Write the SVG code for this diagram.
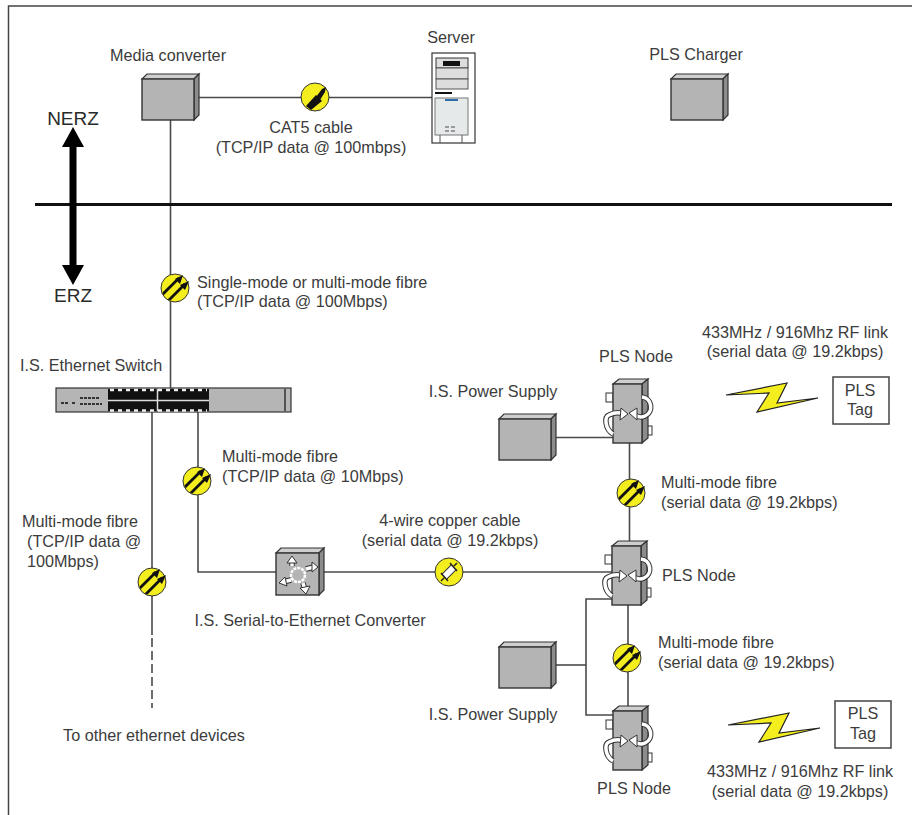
<svg xmlns="http://www.w3.org/2000/svg" xmlns:xlink="http://www.w3.org/1999/xlink" width="912" height="815" viewBox="0 0 912 815">
<style>
text{font-family:"Liberation Sans",Arial,sans-serif;font-size:16.2px;fill:#3c3c3c}
.m{text-anchor:middle}
.big{font-size:19px;fill:#2a2a2a}
.c{fill:none;stroke:#4a4a4a;stroke-width:1.6}
.f{fill:#b4b4b4;stroke:#333;stroke-width:1.4}
.t{fill:#cfcfcf;stroke:#333;stroke-width:1.2}
.s{fill:#8c8c8c;stroke:#333;stroke-width:1.2}
.y{fill:#f5ee1e;stroke:#333;stroke-width:1}
.w{fill:#fff;stroke:#333;stroke-width:1}
.ao{fill:none;stroke:#333;stroke-width:5.5}
.ai{fill:none;stroke:#fff;stroke-width:3.5}
</style>
<defs>
<g id="box">
<path class="t" d="M0 5L5 0H57L52 5Z"/><path class="s" d="M52 5L57 0V41L52 46Z"/><rect class="f" y="5" width="52" height="41"/>
</g>
<clipPath id="disc"><circle r="13.500"/></clipPath>
<g id="fibre">
<circle class="y" r="14"/>
<g clip-path="url(#disc)">
<path d="M-14 8L4 -10M-7 13L10 -4" stroke="#111" stroke-width="2.800" fill="none"/>
</g>
<path d="M8 -13L5 -4L0 -9ZM14 -7L10 2L5 -3Z" fill="#111"/>
</g>
<g id="node">
<rect class="w" x="-7" y="14" width="7" height="9"/>
<rect class="w" x="33" y="47" width="6" height="9"/>
<path class="t" d="M0 5L6 0H35L29 5Z"/><path class="s" d="M29 5L35 0V59L29 64Z"/><rect class="f" y="5" width="29" height="59"/>
<path class="ao" d="M0 55C-8 50 -9 38 -4 36C2 33 6 33 10 35"/>
<path class="ai" d="M0 55C-8 50 -9 38 -4 36C2 33 6 33 10 35"/>
<path class="w" d="M15 35L8 29L7 41Z"/>
<path class="ao" d="M29 18C39 19 41 33 32 37C28 39 25 38 22 36"/>
<path class="ai" d="M29 18C39 19 41 33 32 37C28 39 25 38 22 36"/>
<path class="w" d="M16 34L24 29L24 41Z"/>
</g>
<g id="bolt">
<path d="M0 12L61 0L51 20L92 15L31 29L43 10Z" fill="#f5ee1e" stroke="#222" stroke-width="1.200"/>
</g>
</defs>
<path d="M8.500 815V6H912" fill="none" stroke="#444" stroke-width="1.500"/>

<g id="connectors">
<path class="c" d="M199 97.500H432"/>
<path class="c" d="M170.500 120V388"/>
<path class="c" d="M152 412V635"/>
<path class="c" d="M152 638V708" stroke-dasharray="9 4"/>
<path class="c" d="M198 412V572H276"/>
<path class="c" d="M324 572H612"/>
<path class="c" d="M629.500 443V547"/>
<path class="c" d="M628 605V711"/>
<path class="c" d="M556 437.500H613"/>
<path class="c" d="M556 665H586"/>
<path class="c" d="M613 599H586V715H613"/>
</g>

<g id="zone-boundary">
<path d="M35 204.500H892" stroke="#111" stroke-width="3"/>
<path d="M73 127L84 147H76.500V265H84L73 285L62 265H69.500V147H62Z" fill="#000"/>
<text class="m big" x="73" y="125">NERZ</text>
<text class="m big" x="73" y="302">ERZ</text>
</g>

<g id="media-converter"><use xlink:href="#box" x="142" y="74"/><text class="m" x="168" y="61">Media converter</text></g>
<g id="pls-charger"><use xlink:href="#box" x="671" y="74"/><text class="m" x="696" y="60">PLS Charger</text></g>
<g id="server">
<text class="m" x="451" y="43">Server</text>
<rect x="432" y="53" width="43" height="90" fill="#fff" stroke="#333" stroke-width="1.200"/>
<rect x="436" y="58" width="32" height="10" fill="#ddd" stroke="#333"/>
<rect x="443" y="61" width="17" height="5" fill="#111"/>
<rect x="436" y="68" width="32" height="11" fill="#ddd" stroke="#555"/>
<rect x="436" y="79" width="32" height="10" fill="#ddd" stroke="#555"/>
<path d="M435 93H452" stroke="#111" stroke-width="2"/>
<rect x="435" y="98" width="33" height="37" fill="#e6e9e9" stroke="#777"/>
<path d="M445 100H458" stroke="#2d6ca8" stroke-width="2"/>
<path d="M445 127h4M451 127h4M445 131h4M451 131h4" stroke="#999" stroke-width="2"/>
<path d="M440 135V143M462 135V143" stroke="#555"/>
</g>
<g id="cat5-symbol">
<circle class="y" cx="315" cy="97" r="14"/>
<path d="M306 106L316 95L322 101L311 110Z" fill="#111"/>
<path d="M316 97L322 89L326 87L325 92L320 100Z" fill="#111"/>
</g>
<text class="m" x="311" y="133">CAT5 cable</text>
<text class="m" x="311" y="153">(TCP/IP data @ 100mbps)</text>

<use id="fibre-1" xlink:href="#fibre" x="175" y="288"/>
<text x="197" y="288">Single-mode or multi-mode fibre</text>
<text x="197" y="307">(TCP/IP data @ 100Mbps)</text>

<g id="ethernet-switch">
<text x="20" y="371">I.S. Ethernet Switch</text>
<rect x="56" y="388" width="235" height="24" fill="#b5b5b5" stroke="#333" stroke-width="1.200"/>
<rect x="108" y="389" width="101" height="22" fill="#111"/>
<path d="M108 400.500H209M157.500 389V411" stroke="#ddd" stroke-width="1.500"/>
<path d="M110 390H207M110 410.500H207" stroke="#eee" stroke-width="2.500" stroke-dasharray="4 4"/>
<path d="M285 389V411" stroke="#333" stroke-width="1.500"/>
<path d="M61 403h8M72 403h4M80 398h20M80 404h22" stroke="#333" stroke-width="2" fill="none" stroke-dasharray="3 1"/>
</g>

<use id="fibre-2" xlink:href="#fibre" x="197" y="481"/>
<text x="222" y="462">Multi-mode fibre</text>
<text x="222" y="482">(TCP/IP data @ 10Mbps)</text>

<use id="fibre-3" xlink:href="#fibre" x="152" y="582"/>
<text class="m" x="80" y="527">Multi-mode fibre</text>
<text x="27" y="547">(TCP/IP data @</text>
<text x="27" y="567">100Mbps)</text>
<text class="m" x="154" y="741">To other ethernet devices</text>

<g id="serial-converter">
<path class="t" d="M276 553L281 548H324L319 553Z"/><path class="s" d="M319 553L324 548V590L319 595Z"/><rect class="f" x="276" y="553" width="43" height="42"/>
<path class="ao" d="M292 566V559M291 580L283 582M306 569L314 567M303 583L305 590"/>
<path class="ai" d="M292 566V559M291 580L283 582M306 569L314 567M303 583L305 590"/>
<path class="w" d="M292 556L287 563H297ZM279 583L285 577L287 586ZM318 567L312 562L312 572ZM306 594L300 588L310 586Z"/>
<circle cx="298" cy="575" r="7" fill="#b4b4b4" stroke="#fff" stroke-width="2.500" stroke-dasharray="3 1"/>
<text class="m" x="310" y="626">I.S. Serial-to-Ethernet Converter</text>
</g>

<g id="copper-symbol">
<circle class="y" cx="449" cy="572" r="14"/>
<path d="M444 577L454 567" stroke="#333" stroke-width="8"/>
<path d="M444 577L454 567" stroke="#fff" stroke-width="6"/>
<path d="M441 573L448 581M450 563L457 571M441 581L444 578M454 566L457 563" stroke="#222" stroke-width="1.500"/>
</g>
<text class="m" x="450" y="526">4-wire copper cable</text>
<text class="m" x="450" y="546">(serial data @ 19.2kbps)</text>

<g id="pls-node-1"><text class="m" x="636" y="362">PLS Node</text><use xlink:href="#node" x="613" y="379"/></g>
<g id="pls-node-2"><use xlink:href="#node" x="612" y="541"/><text x="662" y="581">PLS Node</text></g>
<g id="pls-node-3"><use xlink:href="#node" x="613" y="706"/><text class="m" x="634" y="794">PLS Node</text></g>

<g id="power-supply-1"><text class="m" x="493" y="397">I.S. Power Supply</text><use xlink:href="#box" x="499" y="414"/></g>
<g id="power-supply-2"><use xlink:href="#box" x="499" y="642"/><text class="m" x="493" y="720">I.S. Power Supply</text></g>

<use id="fibre-4" xlink:href="#fibre" x="631" y="493"/>
<text x="661" y="488">Multi-mode fibre</text>
<text x="661" y="508">(serial data @ 19.2kbps)</text>
<use id="fibre-5" xlink:href="#fibre" x="627" y="658"/>
<text x="658" y="648">Multi-mode fibre</text>
<text x="658" y="668">(serial data @ 19.2kbps)</text>

<text class="m" x="795" y="338">433MHz / 916Mhz RF link</text>
<text class="m" x="795" y="357">(serial data @ 19.2kbps)</text>
<use xlink:href="#bolt" x="726" y="383"/>
<g id="pls-tag-1"><rect x="833" y="377" width="56" height="47" fill="#fff" stroke="#444" stroke-width="1.500"/><text class="m" x="860" y="396">PLS</text><text class="m" x="860" y="415">Tag</text></g>

<use xlink:href="#bolt" x="728" y="713"/>
<g id="pls-tag-2"><rect x="835" y="701" width="56" height="47" fill="#fff" stroke="#444" stroke-width="1.500"/><text class="m" x="863" y="719">PLS</text><text class="m" x="863" y="739">Tag</text></g>
<text class="m" x="800" y="777">433MHz / 916Mhz RF link</text>
<text class="m" x="800" y="797">(serial data @ 19.2kbps)</text>
</svg>
